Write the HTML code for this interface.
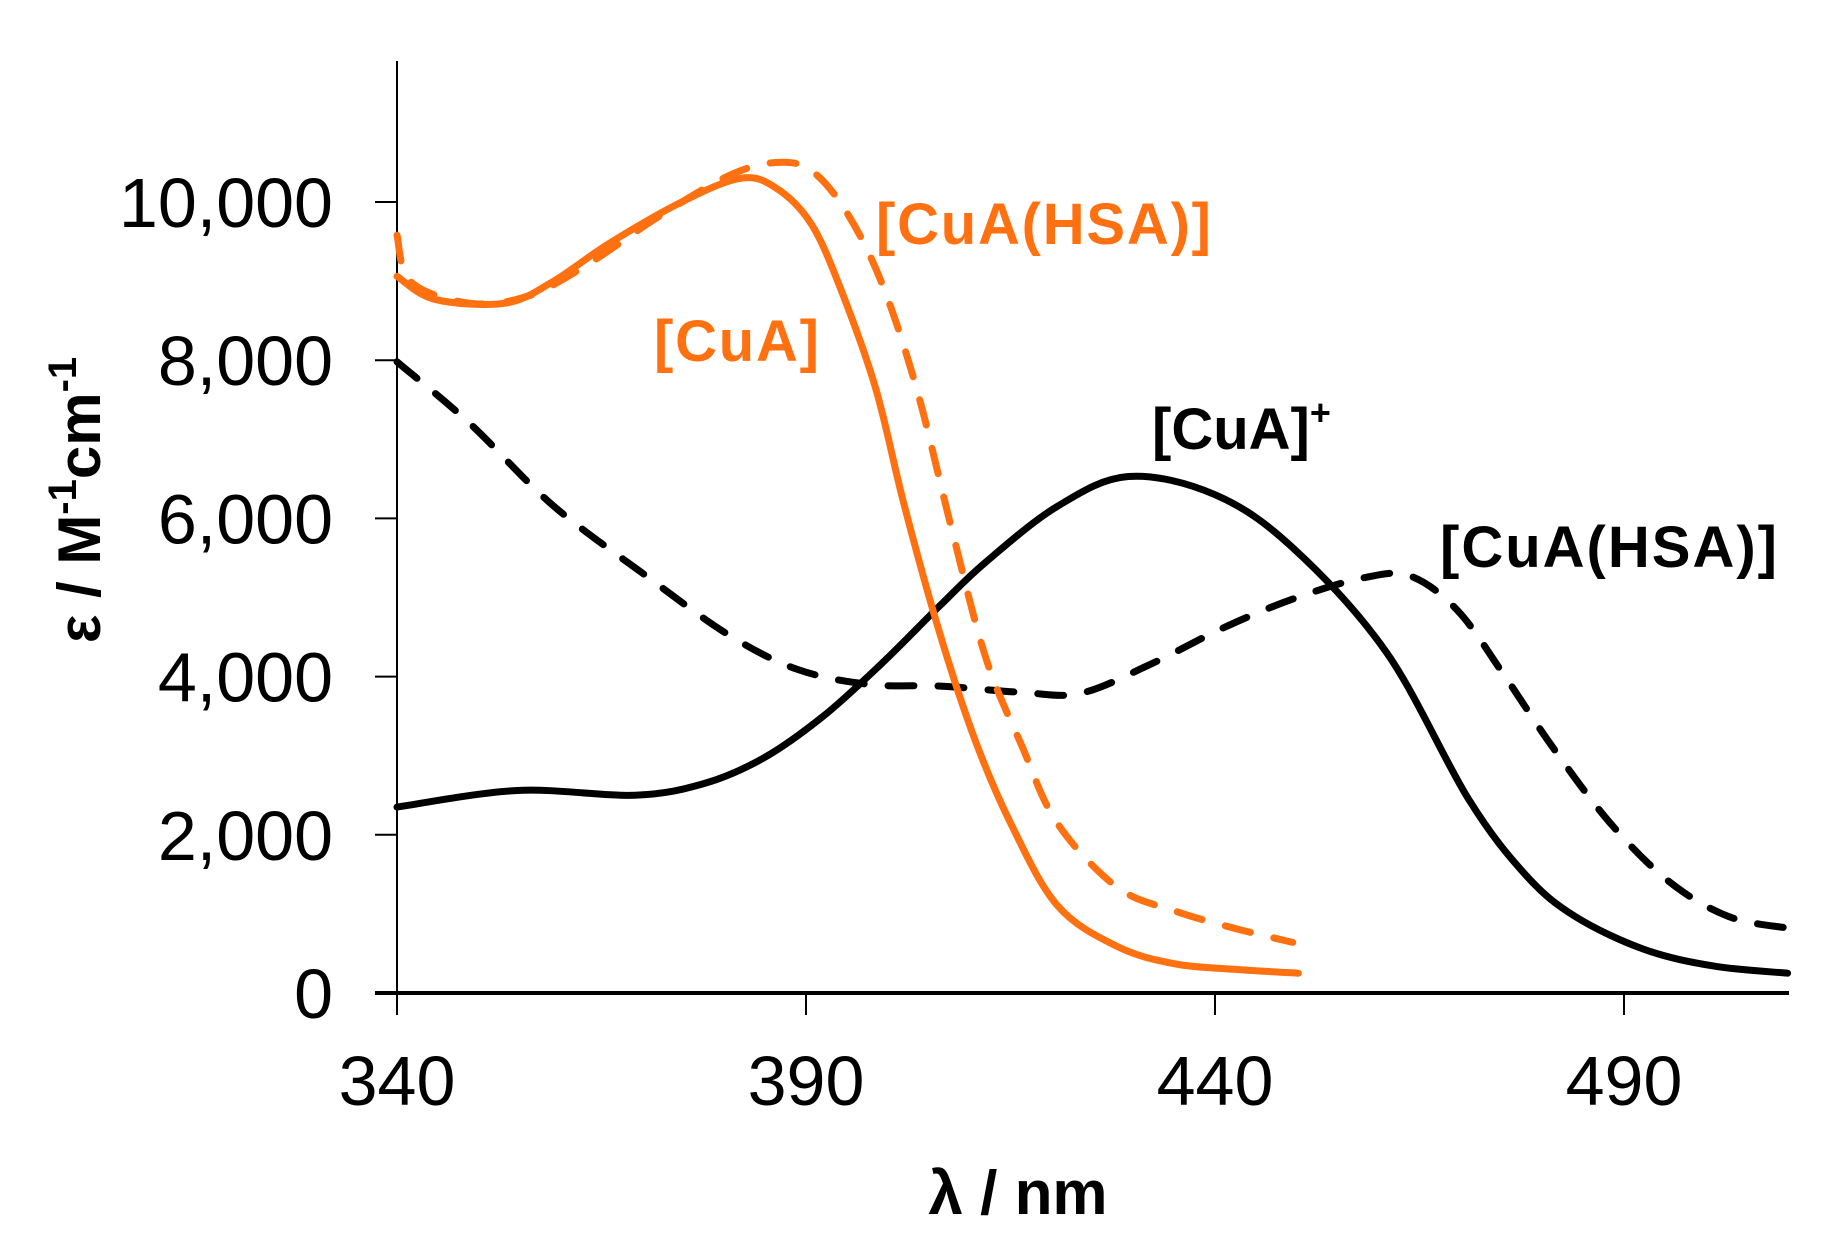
<!DOCTYPE html>
<html><head><meta charset="utf-8"><style>
html,body{margin:0;padding:0;background:#fff;}
svg{display:block;font-family:"Liberation Sans",Arial,sans-serif;}
</style></head><body>
<svg id="chart" width="1834" height="1251" viewBox="0 0 1834 1251" xmlns="http://www.w3.org/2000/svg">
<g id="axes"></g>
<g id="series"></g>
<text transform="translate(100,500) rotate(-90)" text-anchor="middle" font-size="60" font-weight="bold">ε / M<tspan font-size="40" dy="-24">-1</tspan><tspan dy="24">cm</tspan><tspan font-size="40" dy="-24">-1</tspan></text>
<text x="1018" y="1214" text-anchor="middle" font-size="62" font-weight="bold">λ / nm</text>
<text x="876" y="244" font-size="58" font-weight="bold" fill="#ff7010" textLength="335">[CuA(HSA)]</text>
<text x="654" y="361" font-size="58" font-weight="bold" fill="#ff7010" textLength="165">[CuA]</text>
<text x="1152" y="449" font-size="58" font-weight="bold" fill="#000">[CuA]<tspan font-size="36" dy="-24">+</tspan></text>
<text x="1440" y="567" font-size="58" font-weight="bold" fill="#000" textLength="337">[CuA(HSA)]</text>
</svg>
<script>
const xTicks = [340, 390, 440, 490];
const yTicks = [0, 2000, 4000, 6000, 8000, 10000];
const yTickLabels = ["0", "2,000", "4,000", "6,000", "8,000", "10,000"];
const cuaX = [340,344.6,353.2,359,366,374.8,382,386.3,390.6,394.2,398.5,402,406.4,410.7,415,420.7,428,435,442.3,450.2];
const cuaY = [9060,8770,8720,8990,9480,10000,10300,10180,9730,8910,7650,6170,4530,3190,2150,1110,590,370,300,250];
const cuaHsaX = [340,341.7,348.9,356,363.3,371.9,380.5,386.3,390.6,394.9,399.2,403.5,407.8,412,416.4,420.7,428,435,442.3,449.5];
const cuaHsaY = [9580,8990,8720,8810,9210,9810,10330,10500,10400,9880,8990,7650,5870,4230,3120,2150,1340,1040,820,640];
const cuaPlusX = [340,354.7,369,377.6,384.8,392,399.2,406.4,412,420.7,429.4,440,449.5,461,471,478,484,492.5,501,510];
const cuaPlusY = [2350,2560,2500,2650,2970,3490,4160,4900,5450,6150,6530,6300,5630,4300,2450,1490,970,550,340,250];
const cuaPlusHsaX = [340,348.9,359,370.5,380.5,389,397.8,406.4,416.4,423.6,432.2,440.9,449.5,458.2,463.9,469.7,475.4,481.2,488.3,495.5,502.7,510];
const cuaPlusHsaY = [7980,7200,6170,5270,4530,4090,3900,3880,3800,3790,4160,4610,4980,5250,5270,4830,4010,3120,2150,1410,970,820];

const NS = "http://www.w3.org/2000/svg";
const X0 = 397, XPX = 409/50, Y0 = 993, YPX = 158.2/2000, XEND = 1789, YTOP = 61;
function sx(v){ return X0 + (v-340)*XPX; }
function sy(v){ return Y0 - v*YPX; }
function mk(tag, attrs, parent){ const e=document.createElementNS(NS,tag); for(const k in attrs) e.setAttribute(k,attrs[k]); parent.appendChild(e); return e; }
const axes = document.getElementById('axes');
const series = document.getElementById('series');

let yl = mk('line',{x1:X0,y1:YTOP,x2:X0,y2:Y0,stroke:'#000','stroke-width':2},axes);


let xl = mk('line',{x1:X0-22,y1:Y0,x2:XEND,y2:Y0,stroke:'#000','stroke-width':4},axes);



yTicks.forEach((v,i)=>{
  const t = mk('line',{x1:X0-22,y1:sy(v),x2:X0,y2:sy(v),stroke:'#000','stroke-width':2},axes);
  
  
  const l = mk('text',{x:333,y:sy(v)+25,'text-anchor':'end','font-size':70},axes);
  l.textContent = yTickLabels[i];
  
  
});
xTicks.forEach(v=>{
  const t = mk('line',{x1:sx(v),y1:Y0,x2:sx(v),y2:Y0+22,stroke:'#000','stroke-width':2},axes);
  
  
  const l = mk('text',{x:sx(v),y:1105,'text-anchor':'middle','font-size':70},axes);
  l.textContent = String(v);
  
  
});

function smoothPath(xs, ys){
  const p = xs.map((x,i)=>[sx(x), sy(ys[i])]);
  let d = 'M'+p[0][0].toFixed(1)+','+p[0][1].toFixed(1);
  for(let i=0;i<p.length-1;i++){
    const p0=p[i-1]||p[i], p1=p[i], p2=p[i+1], p3=p[i+2]||p2;
    const c1=[p1[0]+(p2[0]-p0[0])/6, p1[1]+(p2[1]-p0[1])/6];
    const c2=[p2[0]-(p3[0]-p1[0])/6, p2[1]-(p3[1]-p1[1])/6];
    d += ' C'+c1[0].toFixed(1)+','+c1[1].toFixed(1)+' '+c2[0].toFixed(1)+','+c2[1].toFixed(1)+' '+p2[0].toFixed(1)+','+p2[1].toFixed(1);
  }
  return d;
}
function line(xs, ys, color, dashed, name){
  const a = {d:smoothPath(xs,ys),fill:'none',stroke:color,'stroke-width':7,'stroke-linecap':'round','stroke-linejoin':'round'};
  if(dashed) a['stroke-dasharray']='26 24';
  const e = mk('path',a,series);
  
  
}
line(cuaPlusHsaX, cuaPlusHsaY, '#000', true, 'series-cua-plus-hsa-dashed');
line(cuaPlusX, cuaPlusY, '#000', false, 'series-cua-plus-solid');
line(cuaHsaX, cuaHsaY, '#ff7010', true, 'series-cua-hsa-dashed');
line(cuaX, cuaY, '#ff7010', false, 'series-cua-solid');
</script>
</body></html>
